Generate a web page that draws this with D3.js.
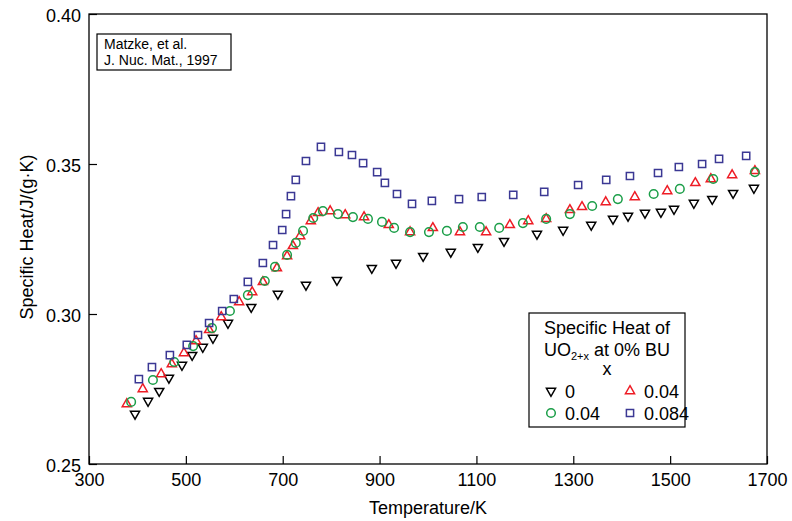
<!DOCTYPE html>
<html><head><meta charset="utf-8">
<script src="https://cdn.jsdelivr.net/npm/d3@7/dist/d3.min.js"></script>
<style>body{margin:0;background:#fff}svg{display:block}text{font-family:"Liberation Sans",Arial,sans-serif}</style>
</head><body><svg id="c" width="792" height="521"></svg>
<script>
const xTicks = [300,500,700,900,1100,1300,1500,1700];
const yTicks = [0.25,0.30,0.35,0.40];

const t0 = [395,422,445,465,492,513,535,556,587,635,690,748,812,884,934,990,1047,1103,1157,1225,1279,1337,1382,1413,1448,1481,1508,1549,1587,1630,1673];
const c0 = [0.2667,0.271,0.2743,0.2787,0.283,0.2863,0.289,0.292,0.297,0.3023,0.3067,0.3097,0.3113,0.3153,0.317,0.3193,0.3207,0.3223,0.3243,0.3267,0.328,0.3297,0.3317,0.3327,0.3337,0.334,0.335,0.337,0.3383,0.3403,0.342];

const tR = [378,411,449,471,496,521,548,573,610,637,659,688,709,721,736,758,773,798,829,868,919,963,1010,1066,1120,1169,1207,1244,1293,1318,1367,1427,1494,1552,1584,1628,1675];
const cR = [0.27,0.275,0.28,0.2833,0.287,0.291,0.2947,0.299,0.304,0.3073,0.3107,0.3153,0.3193,0.3227,0.326,0.331,0.3337,0.3343,0.333,0.3323,0.3297,0.3273,0.3287,0.3273,0.3273,0.3297,0.331,0.3317,0.3347,0.3357,0.3373,0.339,0.341,0.3437,0.345,0.3463,0.3477];

const tG = [387,432,476,515,554,591,628,663,684,709,727,742,763,783,814,845,876,905,930,963,1002,1039,1072,1107,1147,1196,1244,1293,1339,1392,1466,1520,1589,1675];
const cG = [0.2707,0.278,0.284,0.2893,0.2953,0.301,0.3063,0.311,0.3157,0.3197,0.3237,0.3277,0.332,0.3343,0.3333,0.3323,0.3317,0.3307,0.3287,0.3273,0.3273,0.3277,0.329,0.329,0.3287,0.3303,0.3317,0.3333,0.336,0.3383,0.34,0.3417,0.345,0.3473];

const tB = [403,430,467,502,525,548,575,599,628,659,680,699,707,717,727,748,779,816,843,866,895,911,936,967,1008,1064,1111,1176,1240,1310,1368,1417,1475,1518,1566,1601,1657];
const cB = [0.2783,0.2823,0.2863,0.2897,0.293,0.297,0.301,0.305,0.3107,0.317,0.323,0.328,0.3333,0.3393,0.3447,0.351,0.3557,0.354,0.353,0.3503,0.3473,0.3437,0.34,0.3367,0.3377,0.3383,0.339,0.3397,0.3407,0.343,0.3447,0.346,0.347,0.349,0.35,0.3517,0.3527];

const seriesNames = ["0","0.04","0.04","0.084"];
const colors = ["#000000","#ee1c25","#1b9e48","#3b3894"];
const shapes = ["down","up","circle","square"];

const svg = d3.select("#c");
const L=89,R=767,T=14,B=464;
const x = d3.scaleLinear().domain([300,1700]).range([L,R]);
const y = d3.scaleLinear().domain([0.25,0.40]).range([B,T]);

function symPath(s){
  if(s==="circle") return d3.symbol(d3.symbolCircle,58)();
  if(s==="square") return d3.symbol(d3.symbolSquare,52)();
  return d3.symbol(d3.symbolTriangle,36)();
}
function addMarker(g,s,cx,cy,col){
  const p = g.append("path").attr("d",symPath(s)).attr("fill","none").attr("stroke",col).attr("stroke-width",1.5);
  if(s==="down") p.attr("transform",`translate(${cx},${cy}) rotate(180)`);
  else p.attr("transform",`translate(${cx},${cy})`);
}

svg.append("rect").attr("x",L).attr("y",T).attr("width",R-L).attr("height",B-T).attr("fill","none").attr("stroke","#000").attr("stroke-width",1.3);

const xa = svg.append("g").attr("transform",`translate(0,${B})`).call(d3.axisBottom(x).tickValues(xTicks).tickSize(-8).tickPadding(8).tickFormat(d3.format("d")));
const ya = svg.append("g").attr("transform",`translate(${L},0)`).call(d3.axisLeft(y).tickValues(yTicks).tickSize(-8).tickPadding(8).tickFormat(d3.format(".2f")));
[xa,ya].forEach(a=>{a.select(".domain").remove();a.selectAll("line").attr("stroke","#000").attr("stroke-width",1.2);a.selectAll("text").attr("font-size",18).attr("fill","#000").style("font-family","Liberation Sans, Arial, sans-serif");});
xa.selectAll("text").attr("dy","0.8em");
ya.selectAll("text").attr("dy","0.4em");

svg.append("text").attr("x",(L+R)/2).attr("y",514).attr("text-anchor","middle").attr("font-size",18).text("Temperature/K");
svg.append("text").attr("transform","translate(33,237) rotate(-90)").attr("text-anchor","middle").attr("font-size",18).text("Specific Heat/J/(g·K)");

const data = [[t0,c0],[tR,cR],[tG,cG],[tB,cB]];
const plot = svg.append("g");
data.forEach((d,i)=>{
  const g = plot.append("g");
  d[0].forEach((t,j)=>addMarker(g,shapes[i],x(t),y(d[1][j]),colors[i]));
});

svg.append("rect").attr("x",97).attr("y",34).attr("width",134).attr("height",36).attr("fill","#fff").attr("stroke","#000").attr("stroke-width",1.2);
svg.append("text").attr("x",104).attr("y",49).attr("font-size",14).text("Matzke, et al.");
svg.append("text").attr("x",104).attr("y",65).attr("font-size",14).text("J. Nuc. Mat., 1997");

const lg = svg.append("g");
lg.append("rect").attr("x",529).attr("y",313).attr("width",156).attr("height",114).attr("fill","#fff").attr("stroke","#000").attr("stroke-width",1.2);
lg.append("text").attr("x",607).attr("y",334).attr("text-anchor","middle").attr("font-size",18).text("Specific Heat of");
const t2 = lg.append("text").attr("x",607).attr("y",356).attr("text-anchor","middle").attr("font-size",18);
t2.append("tspan").text("UO");
t2.append("tspan").attr("font-size",11).attr("dy",4).text("2+x");
t2.append("tspan").attr("dy",-4).text(" at 0% BU");
lg.append("text").attr("x",607).attr("y",375).attr("text-anchor","middle").attr("font-size",18).text("x");
const pos = [[551,391],[630,391],[551,413],[630,413]];
seriesNames.forEach((n,i)=>{
  addMarker(lg,shapes[i],pos[i][0],pos[i][1],colors[i]);
  lg.append("text").attr("x",pos[i][0]+14).attr("y",pos[i][1]+6.5).attr("font-size",18).text(n);
});
</script></body></html>
